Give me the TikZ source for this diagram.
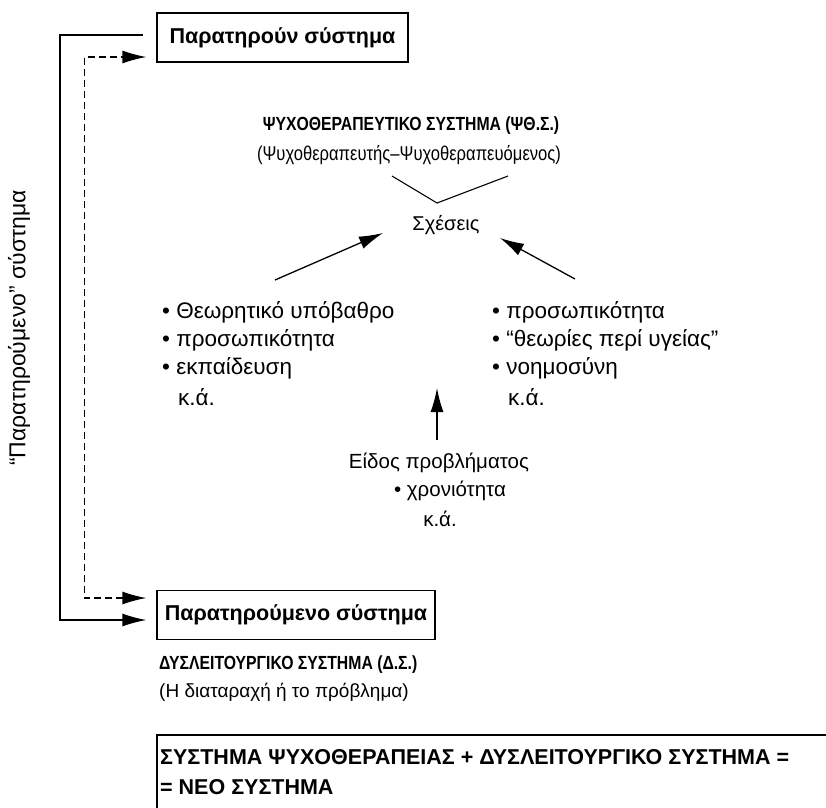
\documentclass[tikz,border=0pt]{standalone}
\usepackage{fontspec}
\setmainfont{Liberation Sans}
\newfontfamily\narrowfont[FakeStretch=0.83]{Liberation Sans}
\usetikzlibrary{arrows.meta}

\def\Observer{Παρατηρούν σύστημα}
\def\Observed{Παρατηρούμενο σύστημα}
\def\Rel{Σχέσεις}
\def\Etc{κ.ά.}

\begin{document}
\begin{tikzpicture}[x=1pt,y=-1pt,
  every node/.style={font=\fontsize{22.5}{26}\selectfont,inner sep=0pt},
  title/.style={font=\fontsize{19}{23}\selectfont\narrowfont\bfseries},
  sysbox/.style={draw,line width=1.3pt,font=\fontsize{21.5}{25}\selectfont\bfseries,
    minimum height=49pt},
  item/.style={anchor=west},
  flow/.style={line width=1.3pt,-{Latex[length=24pt,width=13pt]}},
  back/.style={flow,dash pattern=on 7pt off 4pt,
    {Latex[length=24pt,width=13pt]}-{Latex[length=24pt,width=13pt]}},
]

\useasboundingbox (0,0) rectangle (826,807);

% Systems (boxes)
\node[sysbox,minimum width=251pt] (observer) at (282.5,37.5) {\Observer};
\node[sysbox,minimum width=278pt] (observed) at (296,615) {\Observed};

% Side label
\node[rotate=90,font=\fontsize{23}{27}\selectfont] (obslabel) at (19,328)
  {“Παρατηρούμενο” σύστημα};

% Loop (observer -> observed)
\coordinate (loop start) at (143,35);
\draw[flow,shorten >=10pt] (loop start) -- ++(-83,0) |- ([yshift=-5pt]observed.west);
\draw[back,shorten <=10pt,shorten >=10pt]
  ([yshift=17pt]observed.west) -- ++(-72,0) |- ([yshift=-19.5pt]observer.west);

% Psychotherapy system
\node[title] (ptsys) at (411,126) {ΨΥΧΟΘΕΡΑΠΕΥΤΙΚΟ ΣΥΣΤΗΜΑ (ΨΘ.Σ.)};
\node[font=\fontsize{20}{24}\selectfont\narrowfont] (ptpair) at (409,155)
  {(Ψυχοθεραπευτής–Ψυχοθεραπευόμενος)};
\node[font=\fontsize{20}{24}\selectfont] (rel) at (446,225) {\Rel};

\coordinate (v left) at (392,176);
\coordinate (v tip) at (437,203);
\coordinate (v right) at (508,176);
\draw[line width=1.1pt] (v left) -- (v tip) -- (v right);

% Therapist (left list)
\node[item] (th1) at (162,312) {• Θεωρητικό υπόβαθρο};
\node[item] (th2) at (162,340) {• προσωπικότητα};
\node[item] (th3) at (162,368) {• εκπαίδευση};
\node[item] (th4) at (178,397) {\Etc};

% Client (right list)
\node[item] (cl1) at (492,312) {• προσωπικότητα};
\node[item] (cl2) at (492,340) {• “θεωρίες περί υγείας”};
\node[item] (cl3) at (492,368) {• νοημοσύνη};
\node[item] (cl4) at (508,397) {\Etc};

% Problem
\node[font=\fontsize{20.5}{24}\selectfont] (prob) at (439,463) {Είδος προβλήματος};
\node[font=\fontsize{20.5}{24}\selectfont] (prob1) at (450,491) {• χρονιότητα};
\node[font=\fontsize{20.5}{24}\selectfont] (prob2) at (440,519) {\Etc};

% Arrows to relations
\coordinate (th out) at (275,280);
\coordinate (th in) at (383,233);
\coordinate (cl out) at (575,279);
\coordinate (cl in) at (500,238);
\coordinate (prob out) at (437,440);
\coordinate (prob in) at (437,388);
\draw[flow] (th out) -- (th in);
\draw[flow] (cl out) -- (cl in);
\draw[flow] (prob out) -- (prob in);

% Dysfunctional system
\node[title,item] (dys) at (159,665) {ΔΥΣΛΕΙΤΟΥΡΓΙΚΟ ΣΥΣΤΗΜΑ (Δ.Σ.)};
\node[item,font=\fontsize{19}{23}\selectfont] (dys1) at (159,692)
  {(Η διαταραχή ή το πρόβλημα)};

% New system (box cut by the page)
\node[font=\fontsize{21.5}{30}\selectfont\bfseries,anchor=north west,align=left,
  inner xsep=3pt,inner ysep=14pt]
  (newsys) at (157,735)
  {ΣΥΣΤΗΜΑ ΨΥΧΟΘΕΡΑΠΕΙΑΣ + ΔΥΣΛΕΙΤΟΥΡΓΙΚΟ ΣΥΣΤΗΜΑ =\\= ΝΕΟ ΣΥΣΤΗΜΑ};
\draw[line width=1.3pt] ([xshift=60pt]newsys.north east) -- (newsys.north west)
  -- ([yshift=-40pt]newsys.south west);

\end{tikzpicture}
\end{document}
